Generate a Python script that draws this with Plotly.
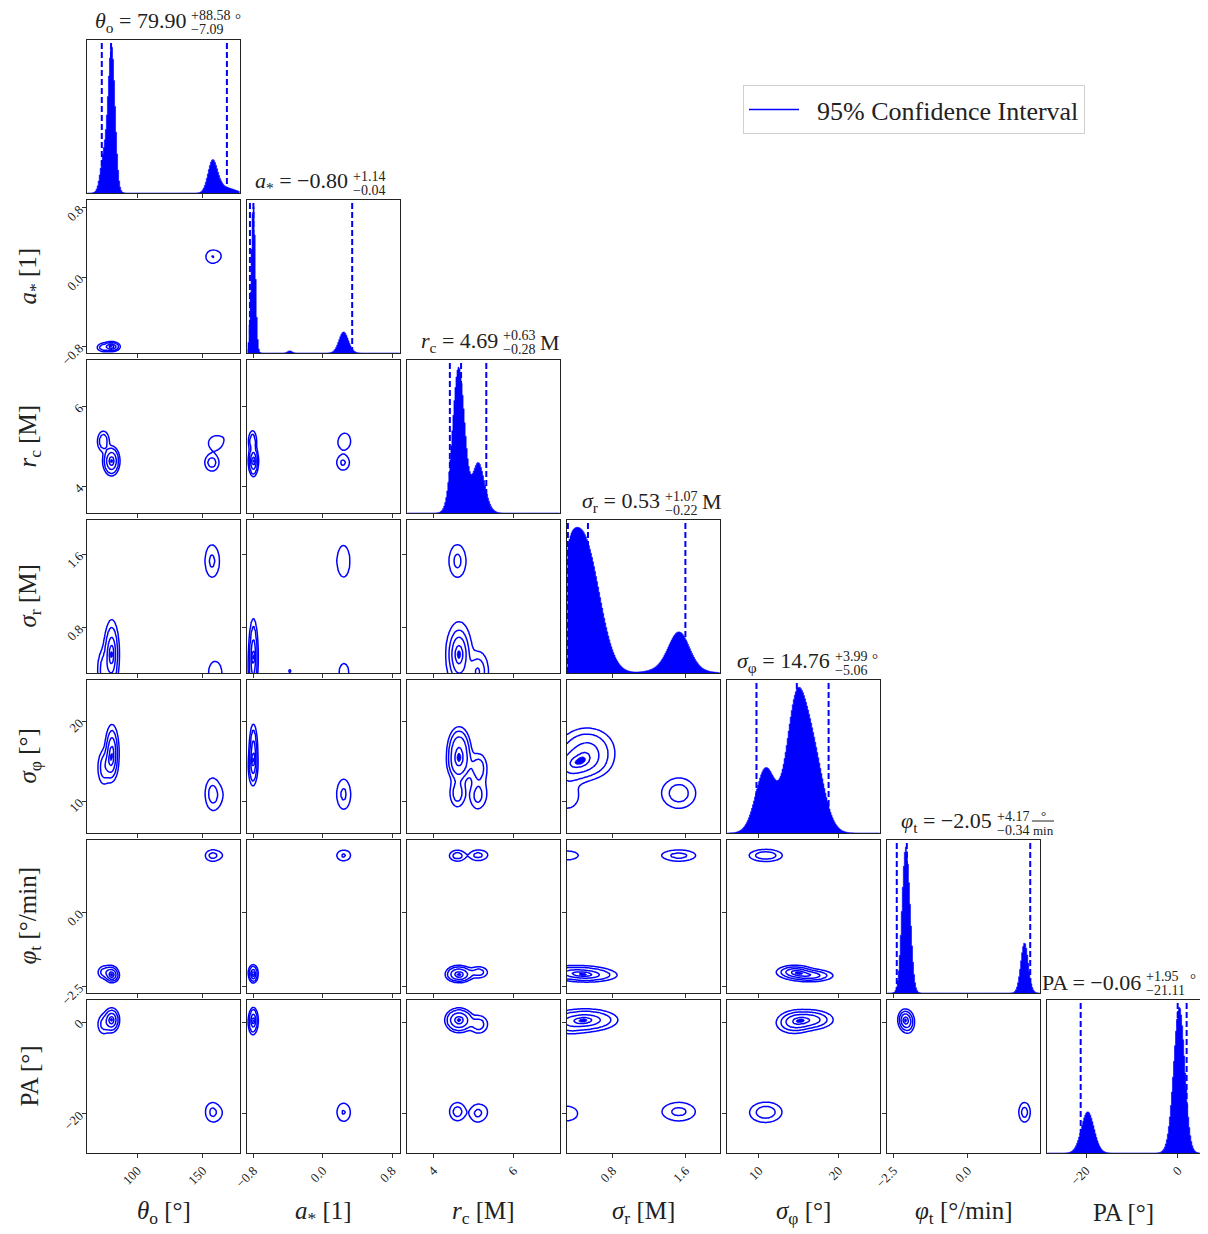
import numpy as np
import plotly.graph_objects as go

# ======================= DATA =======================
# parameter order: theta_o, a_*, r_c, sigma_r, sigma_phi, phi_t, PA
AXIS_LABELS = ["<i>θ</i><sub>o</sub> [°]", "<i>a</i><sub>*</sub> [1]", "<i>r</i><sub>c</sub> [M]",
               "<i>σ</i><sub>r</sub> [M]", "<i>σ</i><sub>φ</sub> [°]", "<i>φ</i><sub>t</sub> [°/min]", "PA [°]"]
TITLE_LHS = ["<i>θ</i><sub>o</sub> = ", "<i>a</i><sub>*</sub> = ", "<i>r</i><sub>c</sub> = ",
             "<i>σ</i><sub>r</sub> = ", "<i>σ</i><sub>φ</sub> = ", "<i>φ</i><sub>t</sub> = ", "PA = "]
TITLE_UNITS = ["°", "", "M", "M", "°", "°/min", "°"]
MEDIANS = [79.90, -0.80, 4.69, 0.53, 14.76, -2.05, -0.06]
ERR_PLUS = [88.58, 1.14, 0.63, 1.07, 3.99, 4.17, 1.95]
ERR_MINUS = [7.09, 0.04, 0.28, 0.22, 5.06, 0.34, 21.11]
RANGE_LO = [61.5, -0.874, 3.34, 0.30, 6.0, -2.72, -28.5]
RANGE_HI = [178.5, 0.892, 7.16, 1.98, 25.2, 2.45, 4.8]
TICK_VALS = [[100, 150], [-0.8, 0.0, 0.8], [4, 6], [0.8, 1.6], [10, 20], [-2.5, 0.0], [-20, 0]]
TICK_TEXT = [["100", "150"], ["−0.8", "0.0", "0.8"], ["4", "6"], ["0.8", "1.6"],
             ["10", "20"], ["−2.5", "0.0"], ["−20", "0"]]
LEGEND_LABEL = "95% Confidence Interval"

# posterior modes (one entry per mode)
MODE_NAMES = ["A1a", "A1b", "A2", "C", "B1", "B2", "B3"]
MODE_WEIGHT = [0.36, 0.17, 0.11, 0.010, 0.10, 0.07, 0.04]
THETA_MEAN = [80.6, 79.3, 74.0, 80.0, 157.0, 159.5, 169.0]
THETA_SD = [2.5, 2.8, 2.5, 3.0, 3.3, 4.0, 6.0]
ASTAR_MEAN = [-0.80, -0.80, -0.81, -0.38, 0.235, 0.245, 0.26]
ASTAR_SD = [0.022, 0.025, 0.025, 0.025, 0.05, 0.055, 0.06]
RC_MEAN = [4.64, 4.63, 5.13, 4.70, 4.60, 5.08, 5.25]
RC_SD = [0.15, 0.15, 0.14, 0.15, 0.13, 0.13, 0.15]
SIGR_MEAN = [0.52, 0.47, 0.33, 0.32, 1.53, 0.30, 1.50]
SIGR_SD = [0.16, 0.16, 0.12, 0.05, 0.11, 0.10, 0.20]
SIGPHI_MEAN = [16.4, 14.6, 14.2, 15.0, 11.0, 10.6, 11.0]
SIGPHI_SD = [1.5, 1.1, 1.2, 1.5, 1.2, 1.2, 1.4]
PHIT_MEAN = [-2.13, -1.99, -2.02, -2.05, 1.92, 1.93, 1.95]
PHIT_SD = [0.11, 0.11, 0.12, 0.12, 0.12, 0.12, 0.14]
PA_MEAN = [0.5, 0.2, -0.5, 0.0, -19.5, -19.9, -19.5]
PA_SD = [1.1, 1.2, 1.2, 1.2, 1.3, 1.35, 1.5]

CONTOUR_SIGMAS = [0.5, 1.0, 1.5, 2.0]
CORE_MASS = 0.03

# ======================= LAYOUT CONSTANTS =======================
OFF = 8                       # page body margin
W, H = 1208 - OFF, 1234 - OFF
FONT = "Liberation Serif"
BLUE = "#0000ff"
P0X, P0Y, STEP, SIZE = 87, 40, 160, 153
TITLE_SPLIT_PX = [188, 350, 500, 662, 832, 994, 1143]
NBINS = 150
NGRID = 110

MEANS = np.array([THETA_MEAN, ASTAR_MEAN, RC_MEAN, SIGR_MEAN, SIGPHI_MEAN, PHIT_MEAN, PA_MEAN])
SDS = np.array([THETA_SD, ASTAR_SD, RC_SD, SIGR_SD, SIGPHI_SD, PHIT_SD, PA_SD])
WTS = np.array(MODE_WEIGHT)
NP = len(AXIS_LABELS)


def npdf(x, m, s):
    return np.exp(-0.5 * ((x - m) / s) ** 2) / (s * np.sqrt(2 * np.pi))


def fmt(v):
    return f"{v:.2f}".replace("-", "−")


def pxx(px):
    return (px - OFF) / W


def pxy(py):
    return 1 - (py - OFF) / H


def note(text, x, y, size, xanchor="center", angle=0):
    return dict(text=text, x=pxx(x), y=pxy(y), xref="paper", yref="paper", xanchor=xanchor,
                yanchor="middle", textangle=angle, showarrow=False,
                font=dict(family=FONT, size=size, color="#222"))


fig = go.Figure()
layout = {}
annotations = []
shapes = []
k = 0
for i in range(NP):
    for j in range(i + 1):
        k += 1
        xn = "x" if k == 1 else f"x{k}"
        yn = "y" if k == 1 else f"y{k}"
        xk = "xaxis" if k == 1 else f"xaxis{k}"
        yk = "yaxis" if k == 1 else f"yaxis{k}"
        left = P0X + STEP * j
        top = P0Y + STEP * i
        xdom = [pxx(left), pxx(left + SIZE)]
        ydom = [pxy(top + SIZE), pxy(top)]
        common = dict(showline=True, linecolor="#222", linewidth=1, mirror=True, showgrid=False,
                      zeroline=False, ticks="outside", ticklen=4, tickwidth=1, tickcolor="#333",
                      tickangle=-45, tickfont=dict(family=FONT, size=13, color="#222"), fixedrange=True,
                      automargin=False)
        xax = dict(common, domain=xdom, anchor=yn, range=[RANGE_LO[j], RANGE_HI[j]],
                   tickmode="array", tickvals=TICK_VALS[j], ticktext=TICK_TEXT[j],
                   showticklabels=(i == NP - 1))
        if i == j:
            edges = np.linspace(RANGE_LO[i], RANGE_HI[i], NBINS + 1)
            centers = 0.5 * (edges[1:] + edges[:-1])
            dens = np.zeros_like(centers)
            for c in range(len(WTS)):
                dens += WTS[c] * npdf(centers, MEANS[i, c], SDS[i, c])
            dens = dens / dens.max()
            ymax = 1.05
            fig.add_trace(go.Scatter(x=centers, y=np.round(dens, 4), mode="lines",
                                     line=dict(color=BLUE, width=0.6, shape="hvh"),
                                     fill="tozeroy", fillcolor=BLUE, xaxis=xn, yaxis=yn,
                                     hoverinfo="skip", showlegend=False))
            for v in (MEDIANS[i] - ERR_MINUS[i], MEDIANS[i], MEDIANS[i] + ERR_PLUS[i]):
                fig.add_trace(go.Scatter(x=[v, v], y=[0, ymax], mode="lines",
                                         line=dict(color=BLUE, width=2, dash="6px,3px"),
                                         xaxis=xn, yaxis=yn, hoverinfo="skip", showlegend=False))
            yax = dict(common, domain=ydom, anchor=xn, range=[0, ymax], showticklabels=False,
                       ticks="")
            # title pieces
            sx = TITLE_SPLIT_PX[i]
            sup = "+" + fmt(ERR_PLUS[i])
            sub = "−" + fmt(ERR_MINUS[i])
            annotations.append(note(TITLE_LHS[i] + fmt(MEDIANS[i]), sx, top - 18, 22, "right"))
            annotations.append(note(sup, sx + 1, top - 24, 14, "left"))
            annotations.append(note(sub, sx + 1, top - 10, 14, "left"))
            ux = sx + 5 + max(len(sup), len(sub)) * 6.6
            unit = TITLE_UNITS[i]
            if unit == "M":
                annotations.append(note("M", ux, top - 18, 22, "left"))
            elif unit == "°":
                annotations.append(note("°", ux, top - 21, 15, "left"))
            elif unit == "°/min":
                annotations.append(note("°", ux + 11, top - 25, 13))
                annotations.append(note("min", ux + 11, top - 10, 13))
                shapes.append(dict(type="line", xref="paper", yref="paper", x0=pxx(ux), x1=pxx(ux + 22),
                                   y0=pxy(top - 19), y1=pxy(top - 19), line=dict(color="#222", width=1)))
        else:
            gx = np.linspace(RANGE_LO[j], RANGE_HI[j], NGRID)
            gy = np.linspace(RANGE_LO[i], RANGE_HI[i], NGRID)
            z = np.zeros((NGRID, NGRID))
            for c in range(len(WTS)):
                z += WTS[c] * np.outer(npdf(gy, MEANS[i, c], SDS[i, c]), npdf(gx, MEANS[j, c], SDS[j, c]))
            flat = np.sort(z.ravel())[::-1]
            cs = np.cumsum(flat)
            cs /= cs[-1]
            masses = [1 - np.exp(-0.5 * s ** 2) for s in CONTOUR_SIGMAS[::-1]] + [CORE_MASS]
            vals = [flat[min(np.searchsorted(cs, m), len(flat) - 1)] for m in masses]
            xp = [0.0] + vals + [z.max() * 1.0001]
            for q in range(1, len(xp)):
                if xp[q] <= xp[q - 1]:
                    xp[q] = xp[q - 1] * 1.0001 + 1e-300
            t = np.interp(z, xp, np.arange(len(xp)))
            t = np.round(t, 3)
            fig.add_trace(go.Contour(x=gx, y=gy, z=t,
                                     contours=dict(type="constraint", operation="<", value=5),
                                     fillcolor=BLUE, line=dict(color=BLUE, width=0.8), showscale=False,
                                     hoverinfo="skip", xaxis=xn, yaxis=yn, showlegend=False))
            fig.add_trace(go.Contour(x=gx, y=gy, z=t, autocontour=False,
                                     contours=dict(start=1, end=4, size=1, coloring="none"),
                                     line=dict(color=BLUE, width=1.5), showscale=False,
                                     hoverinfo="skip", xaxis=xn, yaxis=yn, showlegend=False))
            yax = dict(common, domain=ydom, anchor=xn, range=[RANGE_LO[i], RANGE_HI[i]],
                       tickmode="array", tickvals=TICK_VALS[i], ticktext=TICK_TEXT[i],
                       showticklabels=(j == 0))
        layout[xk] = xax
        layout[yk] = yax

# axis labels
for j in range(NP):
    annotations.append(note(AXIS_LABELS[j], P0X + STEP * j + SIZE / 2, 1212, 25))
for i in range(1, NP):
    annotations.append(note(AXIS_LABELS[i], 29, P0Y + STEP * i + SIZE / 2, 25, "center", -90))

# legend entry
fig.add_trace(go.Scatter(x=[None], y=[None], mode="lines", line=dict(color=BLUE, width=1.5),
                         name="\u00a0\u00a0" + LEGEND_LABEL, showlegend=True, xaxis="x", yaxis="y"))

fig.update_layout(
    width=W, height=H, margin=dict(l=0, r=0, t=0, b=0, autoexpand=False),
    paper_bgcolor="white", plot_bgcolor="white",
    annotations=annotations, shapes=shapes,
    legend=dict(x=pxx(743), y=pxy(85), xanchor="left", yanchor="top", bgcolor="white",
                bordercolor="#d0d0d0", borderwidth=1, font=dict(family=FONT, size=26, color="#222"),
                itemwidth=50),
    **layout,
)
fig.write_html("out.html")
